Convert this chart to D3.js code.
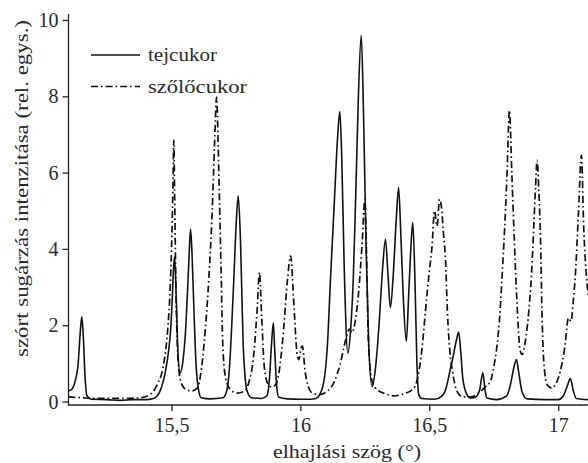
<!DOCTYPE html>
<html><head><meta charset="utf-8">
<script src="https://cdn.jsdelivr.net/npm/d3@7"></script>
</head>
<body style="margin:0"><svg id="c" width="588" height="463"></svg>
<script>
const seriesNames = ["tejcukor", "szőlőcukor"];
const xTicks = [15.5, 16, 16.5, 17];
const xTickLabels = ["15,5", "16", "16,5", "17"];
const yTicks = [0, 2, 4, 6, 8, 10];
const xTitle = "elhajlási szög (°)";
const yTitle = "szórt sugárzás intenzitása (rel. egys.)";

const tejX = [15.100,15.109,15.125,15.138,15.147,15.152,15.158,15.165,15.172,15.19,15.25,15.30,15.35,15.40,15.43,15.445,15.46,15.477,15.49,15.497,15.503,15.508,15.512,15.518,15.525,15.533,15.545,15.555,15.563,15.57,15.574,15.58,15.587,15.595,15.605,15.615,15.65,15.70,15.715,15.725,15.733,15.742,15.752,15.759,15.768,15.778,15.786,15.794,15.81,15.85,15.87,15.88,15.888,15.895,15.90,15.907,15.915,15.95,16.0,16.04,16.06,16.085,16.105,16.117,16.13,16.145,16.153,16.16,16.17,16.184,16.195,16.205,16.215,16.225,16.236,16.245,16.255,16.265,16.278,16.29,16.305,16.318,16.33,16.34,16.349,16.36,16.372,16.381,16.39,16.40,16.411,16.42,16.43,16.436,16.445,16.452,16.459,16.47,16.52,16.55,16.565,16.58,16.59,16.605,16.614,16.622,16.63,16.646,16.66,16.68,16.695,16.708,16.716,16.724,16.76,16.80,16.815,16.83,16.838,16.846,16.86,16.88,16.95,17.0,17.02,17.035,17.047,17.058,17.07,17.116];
const tejY = [0.28,0.30,0.5,1.0,1.9,2.22,1.7,0.6,0.15,0.06,0.05,0.03,0.05,0.05,0.08,0.15,0.35,0.8,1.4,1.9,2.7,3.5,3.8,2.8,1.3,0.75,1.1,1.9,3.0,4.1,4.52,3.8,2.4,1.0,0.3,0.1,0.07,0.1,0.3,0.9,1.9,3.25,4.8,5.39,4.12,1.49,0.6,0.26,0.1,0.08,0.15,0.6,1.5,2.06,1.4,0.5,0.12,0.07,0.06,0.06,0.08,0.35,1.5,3.25,5.0,7.0,7.6,6.5,3.5,1.27,1.9,3.2,5.5,8.0,9.6,7.5,4.0,1.5,0.39,0.8,2.0,3.4,4.25,3.3,2.46,3.3,4.8,5.61,4.3,2.6,1.58,2.8,4.2,4.7,3.0,1.0,0.18,0.08,0.06,0.15,0.35,0.8,1.1,1.6,1.82,1.3,0.6,0.18,0.09,0.12,0.3,0.75,0.3,0.09,0.05,0.15,0.45,0.95,1.1,0.8,0.25,0.07,0.05,0.05,0.15,0.4,0.6,0.3,0.08,0.05];

const szoloX = [15.100,15.15,15.2,15.3,15.38,15.42,15.445,15.47,15.485,15.495,15.502,15.506,15.509,15.512,15.516,15.522,15.53,15.54,15.56,15.58,15.60,15.615,15.626,15.637,15.645,15.658,15.667,15.675,15.68,15.684,15.693,15.699,15.71,15.729,15.755,15.78,15.80,15.82,15.833,15.841,15.85,15.86,15.875,15.89,15.905,15.92,15.935,15.95,15.962,15.975,15.988,15.994,16.002,16.008,16.018,16.03,16.04,16.07,16.10,16.13,16.155,16.175,16.19,16.20,16.21,16.225,16.24,16.25,16.256,16.262,16.27,16.28,16.30,16.33,16.36,16.40,16.44,16.46,16.475,16.485,16.50,16.511,16.52,16.53,16.54,16.547,16.555,16.563,16.57,16.58,16.59,16.608,16.63,16.66,16.698,16.72,16.737,16.75,16.763,16.775,16.782,16.792,16.801,16.811,16.82,16.83,16.84,16.853,16.86,16.873,16.886,16.897,16.905,16.912,16.918,16.925,16.932,16.937,16.944,16.957,16.976,16.99,17.008,17.025,17.04,17.05,17.058,17.066,17.079,17.09,17.099,17.112,17.116];
const szoloY = [0.12,0.1,0.08,0.08,0.1,0.2,0.45,1.0,1.86,3.0,4.5,5.8,6.85,5.5,3.5,1.6,0.75,0.45,0.3,0.28,0.35,0.8,1.49,2.4,3.25,5.0,6.75,7.98,7.0,5.88,3.25,1.49,0.61,0.31,0.22,0.26,0.5,1.3,2.5,3.38,2.2,0.9,0.45,0.38,0.45,0.9,1.9,3.2,3.82,2.5,1.2,1.1,1.4,1.45,0.8,0.4,0.26,0.18,0.25,0.5,1.0,1.6,1.9,1.8,2.0,2.8,4.2,5.3,4.0,2.0,0.9,0.5,0.3,0.2,0.15,0.2,0.35,0.8,1.6,2.37,3.4,4.1,5.0,4.6,5.3,5.1,4.4,3.7,2.4,1.3,0.79,0.26,0.12,0.12,0.26,0.4,0.53,0.9,1.49,2.4,3.25,4.5,5.88,7.63,6.0,4.2,2.6,1.32,1.23,1.6,2.37,3.4,4.56,5.6,6.32,5.5,4.1,2.37,1.05,0.44,0.35,0.45,0.79,1.4,2.19,2.1,2.6,3.25,5.0,6.45,4.56,3.07,2.8];

const svg = d3.select("#c");
const x = d3.scaleLinear().domain([15.5, 17]).range([171.5, 558.2]);
const y = d3.scaleLinear().domain([0, 10]).range([401.5, 20]);
const left = 68.5, right = 588, bottomAxisY = 405;
const FONT = "'Liberation Serif', monospace";
const TXT = "#2a2a2a";

svg.append("clipPath").attr("id","clip").append("rect")
  .attr("x", left).attr("y", 0).attr("width", right-left).attr("height", bottomAxisY);

const line = d3.line().x(d=>x(d[0])).y(d=>y(d[1])).curve(d3.curveMonotoneX);
const tej = tejX.map((v,i)=>[v,tejY[i]]);
const szolo = szoloX.map((v,i)=>[v,szoloY[i]]);

const g = svg.append("g").attr("clip-path","url(#clip)");
g.append("path").datum(tej).attr("d", line).attr("fill","none")
  .attr("stroke","#111").attr("stroke-width",1.6).attr("stroke-linejoin","round");
g.append("path").datum(szolo).attr("d", line).attr("fill","none")
  .attr("stroke","#111").attr("stroke-width",1.7).attr("stroke-dasharray","7,3,1.6,3");

// axes (built with d3 axis generators; text restyled afterwards)
const xAxis = d3.axisBottom(x).tickValues(xTicks).tickFormat((d,i)=>xTickLabels[i]).tickSize(6).tickSizeOuter(0);
const xg = svg.append("g").attr("transform",`translate(0,${bottomAxisY})`).call(xAxis);
xg.attr("font-family", null).attr("font-size", null);
xg.select(".domain").remove();
xg.append("line").attr("x1",left).attr("x2",right).attr("stroke","#222").attr("stroke-width",1.3);
xg.selectAll(".tick line").attr("stroke","#222").attr("stroke-width",1.3);
xg.selectAll(".tick text").attr("dy",null).attr("y",27).attr("fill",TXT)
  .style("font-family",FONT).style("font-size","20px");

const yAxis = d3.axisLeft(y).tickValues(yTicks).tickSize(6).tickSizeOuter(0);
const yg = svg.append("g").attr("transform",`translate(${left},0)`).call(yAxis);
yg.attr("font-family", null).attr("font-size", null);
yg.select(".domain").remove();
yg.append("line").attr("y1",14).attr("y2",bottomAxisY+0.6).attr("stroke","#222").attr("stroke-width",1.3);
yg.selectAll(".tick line").attr("stroke","#222").attr("stroke-width",1.3);
yg.selectAll(".tick text").attr("x",-10).attr("dy","0.33em").attr("fill",TXT)
  .style("font-family",FONT).style("font-size","20px");

// titles
svg.append("text").attr("x",347).attr("y",458).attr("text-anchor","middle").attr("fill",TXT)
  .style("font-family",FONT).style("font-size","19px")
  .attr("textLength",148).attr("lengthAdjust","spacingAndGlyphs").text(xTitle);
svg.append("text").attr("transform","translate(28,188.5) rotate(-90)").attr("text-anchor","middle").attr("fill",TXT)
  .style("font-family",FONT).style("font-size","19px")
  .attr("textLength",337).attr("lengthAdjust","spacingAndGlyphs").text(yTitle);

// legend
const leg = svg.append("g");
const styles = [null, "7,3,1.6,3"];
seriesNames.forEach((n,i)=>{
  const yy = 55 + i*31.5;
  leg.append("line").attr("x1",91).attr("x2",140).attr("y1",yy).attr("y2",yy)
    .attr("stroke","#111").attr("stroke-width",1.7).attr("stroke-dasharray",styles[i]);
  leg.append("text").attr("x",148).attr("y",yy+6).attr("fill",TXT)
    .style("font-family",FONT).style("font-size","19px")
    .attr("textLength", i===0?69:99).attr("lengthAdjust","spacingAndGlyphs").text(n);
});
</script></body></html>
